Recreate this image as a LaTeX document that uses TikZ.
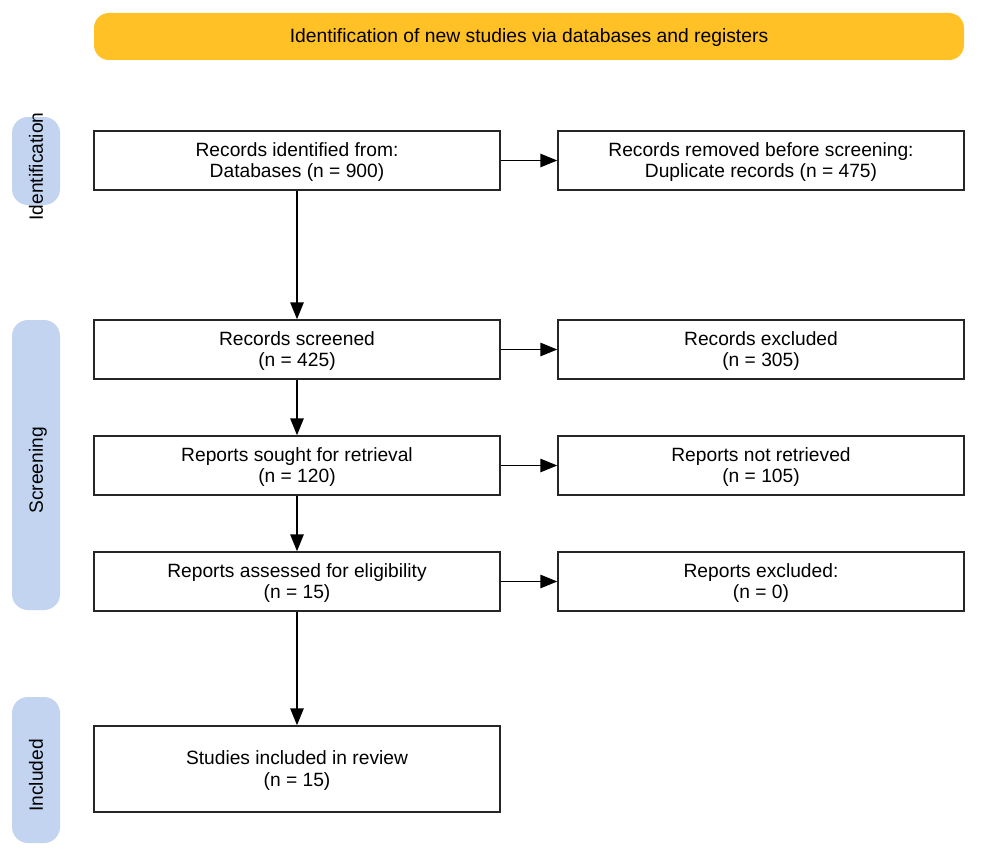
\documentclass[tikz,border=0pt]{standalone}
\usepackage{fontspec}
\setmainfont{Liberation Sans}
\usetikzlibrary{arrows.meta}
\definecolor{barcol}{RGB}{255,193,37}
\definecolor{pillcol}{RGB}{194,212,240}
\begin{document}
\begin{tikzpicture}[x=1pt,y=-1pt,
  box/.style={draw=black!85,line width=1.5pt,minimum width=406pt,minimum height=59pt,inner sep=0pt,align=center,text height=35.7pt,text depth=1.3pt,font=\fontsize{19.2}{21.7}\selectfont},
  pill/.style={fill=pillcol,rounded corners=16pt,minimum width=48pt,inner sep=0pt},
  pilltext/.style={rotate=90,inner sep=0pt,text height=13.6pt,text depth=0pt,font=\fontsize{19.2}{22}\selectfont},
  arr/.style={line width=1.5pt,-{Triangle[length=17pt,width=13.5pt]}}]
\useasboundingbox (0,0) rectangle (986,851);
\node[fill=barcol,rounded corners=15pt,minimum width=870pt,minimum height=47pt,inner sep=0pt,text height=12.5pt,text depth=0pt,font=\fontsize{19.3}{22}\selectfont] (bar) at (529,36.5) {Identification of new studies via databases and registers};
\node[pill,minimum height=88pt] (p1) at (36,161) {};
\node[pilltext] (t1) at (36,166.5) {Identification};
\node[pill,minimum height=290pt] (p2) at (36,465) {};
\node[pilltext] (t2) at (36,470.5) {Screening};
\node[pill,minimum height=146pt] (p3) at (36,770) {};
\node[pilltext] (t3) at (36,775.5) {Included};
\node[box] (b1) at (297,160.5) {Records identified from:\\Databases (n = 900)};
\node[box] (r1) at (761,160.5) {Records removed before screening:\\Duplicate records (n = 475)};
\node[box] (b2) at (297,349.5) {Records screened\\(n = 425)};
\node[box] (r2) at (761,349.5) {Records excluded\\(n = 305)};
\node[box] (b3) at (297,465.5) {Reports sought for retrieval\\(n = 120)};
\node[box] (r3) at (761,465.5) {Reports not retrieved\\(n = 105)};
\node[box] (b4) at (297,581.5) {Reports assessed for eligibility\\(n = 15)};
\node[box] (r4) at (761,581.5) {Reports excluded:\\(n = 0)};
\node[box,minimum height=86pt] (b5) at (297,769) {Studies included in review\\(n = 15)};
\draw[arr] (b1) -- (r1);
\draw[arr] (b2) -- (r2);
\draw[arr] (b3) -- (r3);
\draw[arr] (b4) -- (r4);
\draw[arr] (b1) -- (b2);
\draw[arr] (b2) -- (b3);
\draw[arr] (b3) -- (b4);
\draw[arr] (b4) -- (b5);
\end{tikzpicture}
\end{document}
